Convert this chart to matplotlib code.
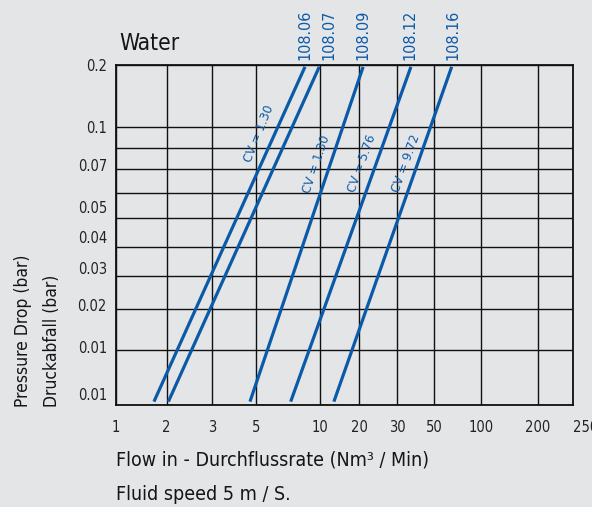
import numpy as np
import matplotlib
matplotlib.use("Agg")
import matplotlib.pyplot as plt
from matplotlib import font_manager
from matplotlib.ticker import FixedLocator, FixedFormatter

# the original uses a condensed sans; pick one if installed
narrow = None
for f in font_manager.fontManager.ttflist:
    nm = f.name.lower()
    if ('narrow' in nm or 'condensed' in nm or 'condensed' in str(f.stretch)) and f.style == 'normal':
        narrow = f
        break
if narrow is not None:
    plt.rcParams['font.family'] = [narrow.name, 'DejaVu Sans']
    plt.rcParams['font.stretch'] = narrow.stretch
    k = 1.0
else:
    plt.rcParams['font.family'] = ['Liberation Sans', 'DejaVu Sans']
    k = 0.95

# data
models = ["108.06", "108.07", "108.09", "108.12", "108.16"]
flow_low = [1.68, 2.03, 4.66, 7.28, 12.8]
flow_high = [8.5, 9.92, 20.9, 36.3, 64.6]
p_low = 0.0052
p_high = 0.196
cv_labels = ["CV = 1.30", "CV = 1.30", "CV = 5.76", "CV = 9.72"]

xtick_vals = [1, 2, 3, 5, 10, 20, 30, 50, 100, 200, 250]
xtick_labels = ["1", "2", "3", "5", "10", "20", "30", "50", "100", "200", "250"]
ygrid_vals = [0.005, 0.01, 0.02, 0.03, 0.04, 0.05, 0.06, 0.07, 0.08, 0.1, 0.2]
ytick_vals = [0.2, 0.1, 0.0717, 0.0542, 0.0433, 0.0324, 0.021, 0.0106, 0.0057]
ytick_labels = ["0.2", "0.1", "0.07", "0.05", "0.04", "0.03", "0.02", "0.01", "0.01"]

# the chart's axes are hand-drawn, not a true log scale: piecewise log mapping
x_pos = np.array([0, 50.7, 96.3, 140, 204, 243, 281, 318.3, 365.3, 421.7, 456.7])
y_pos = 404.7 - np.array([404.7, 350.3, 309.3, 275.7, 246.7, 218.3, 193, 168.7, 147.7, 127, 65])

def make_scale(vals, pos):
    lv = np.log10(vals)
    def fwd(v):
        v = np.clip(np.asarray(v, dtype=float), 1e-9, None)
        return np.interp(np.log10(v), lv, pos)
    def inv(p):
        return 10 ** np.interp(np.asarray(p, dtype=float), pos, lv)
    return fwd, inv

bg = "#e4e5e7"
blue = "#0b5aa8"
grid_col = "#111111"
txt_col = "#151515"

fig = plt.figure(figsize=(5.92, 5.07), dpi=100, facecolor=bg)
ax = fig.add_axes([116 / 592, 1 - 404.7 / 507, 456.7 / 592, 339.7 / 507])
ax.set_facecolor(bg)

ax.set_xscale('function', functions=make_scale(np.array(xtick_vals, float), x_pos))
ax.set_yscale('function', functions=make_scale(np.array(ygrid_vals), y_pos))
ax.set_xlim(1, 250)
ax.set_ylim(0.005, 0.2)

ax.xaxis.remove_overlapping_locs = False
ax.yaxis.remove_overlapping_locs = False
ax.xaxis.set_major_locator(FixedLocator(xtick_vals))
ax.xaxis.set_major_formatter(FixedFormatter(xtick_labels))
ax.xaxis.set_minor_locator(FixedLocator(xtick_vals))
ax.yaxis.set_major_locator(FixedLocator(ytick_vals))
ax.yaxis.set_major_formatter(FixedFormatter(ytick_labels))
ax.yaxis.set_minor_locator(FixedLocator(ygrid_vals))
ax.xaxis.set_minor_formatter(FixedFormatter([""] * len(xtick_vals)))
ax.yaxis.set_minor_formatter(FixedFormatter([""] * len(ygrid_vals)))

ax.tick_params(which='both', length=0, colors="#222222")
ax.tick_params(axis='x', labelsize=10.5 * k, pad=11)
ax.tick_params(axis='y', labelsize=10.5 * k, pad=6.5)
ax.grid(which='minor', color=grid_col, lw=1.0)
ax.set_axisbelow(True)
for s in ax.spines.values():
    s.set_color(grid_col)
    s.set_linewidth(1.3)

for i in range(len(models)):
    ax.plot([flow_low[i], flow_high[i]], [p_low, p_high], color=blue, lw=2.3,
            solid_capstyle='butt', zorder=3)

# model labels above the top of each line
label_dx = [0, 10, 0, -1, 1]
for i, m in enumerate(models):
    ax.annotate(m, xy=(flow_high[i], p_high), xytext=(label_dx[i], 6.5),
                textcoords='offset pixels', rotation=90, ha='center', va='bottom',
                color=blue, fontsize=11.5 * k, annotation_clip=False)

# CV labels along the lines
cv_xy = [(0.313, 0.797), (0.44, 0.709), (0.539, 0.711), (0.635, 0.709)]
cv_rot = [68, 71, 70, 70]
for lab, (tx, ty), r in zip(cv_labels, cv_xy, cv_rot):
    ax.text(tx, ty, lab, transform=ax.transAxes, rotation=r, ha='center', va='center',
            color=blue, fontsize=9.5 * k, rotation_mode='anchor')

xl = ax.get_xticklabels()
xl[-1].set_ha('left')

fig.text(119 / 592, 1 - 50 / 507, "Water", fontsize=16.3 * k, va='baseline', ha='left', color=txt_col)
fig.text(116 / 592, 1 - 466 / 507, "Flow in - Durchflussrate (Nm³ / Min)", fontsize=14 * k,
         va='baseline', ha='left', color=txt_col)
fig.text(116 / 592, 1 - 500 / 507, "Fluid speed 5 m / S.", fontsize=14 * k,
         va='baseline', ha='left', color=txt_col)
fig.text(23 / 592, 1 - 407 / 507, "Pressure Drop (bar)", fontsize=12.5 * k, rotation=90,
         ha='center', va='bottom', color=txt_col)
fig.text(52 / 592, 1 - 407 / 507, "Druckabfall (bar)", fontsize=12.5 * k, rotation=90,
         ha='center', va='bottom', color=txt_col)

fig.savefig("out.png", dpi=100, facecolor=bg)
